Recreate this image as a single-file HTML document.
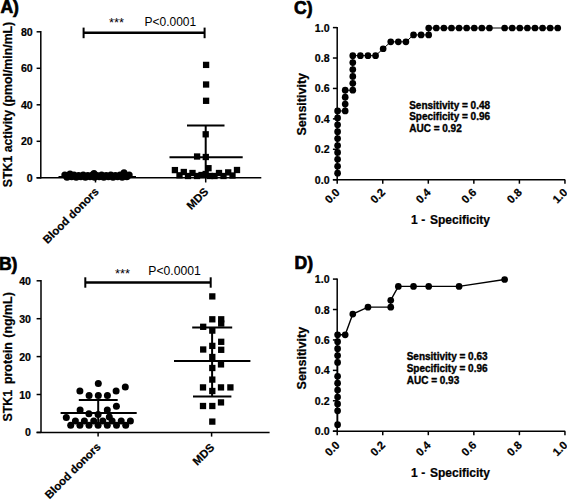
<!DOCTYPE html>
<html><head><meta charset="utf-8"><style>
html,body{margin:0;padding:0;background:#fff;width:567px;height:500px;overflow:hidden;}
svg{display:block;}
text{font-family:"Liberation Sans", sans-serif;fill:#000;}
</style></head><body>
<svg width="567" height="500" viewBox="0 0 567 500">
<rect width="567" height="500" fill="#fff"/>
<text x="0.40" y="13.00" font-size="17.6" font-weight="bold" text-anchor="start" stroke="#000" stroke-width="0.7">A)</text>
<text x="-1.10" y="270.00" font-size="17.6" font-weight="bold" text-anchor="start" stroke="#000" stroke-width="0.7">B)</text>
<text x="294.10" y="13.70" font-size="17.6" font-weight="bold" text-anchor="start" stroke="#000" stroke-width="0.7">C)</text>
<text x="294.50" y="269.30" font-size="17.6" font-weight="bold" text-anchor="start" stroke="#000" stroke-width="0.7">D)</text>
<line x1="40.80" y1="31.10" x2="40.80" y2="178.50" stroke="#000" stroke-width="1.5"/>
<line x1="36.60" y1="177.80" x2="261.30" y2="177.80" stroke="#000" stroke-width="1.5"/>
<line x1="36.60" y1="177.80" x2="40.80" y2="177.80" stroke="#000" stroke-width="1.5"/>
<text x="32.70" y="181.80" font-size="10.6" font-weight="bold" text-anchor="end" stroke="#000" stroke-width="0.22">0</text>
<line x1="36.60" y1="141.30" x2="40.80" y2="141.30" stroke="#000" stroke-width="1.5"/>
<text x="32.70" y="145.30" font-size="10.6" font-weight="bold" text-anchor="end" stroke="#000" stroke-width="0.22">20</text>
<line x1="36.60" y1="104.80" x2="40.80" y2="104.80" stroke="#000" stroke-width="1.5"/>
<text x="32.70" y="108.80" font-size="10.6" font-weight="bold" text-anchor="end" stroke="#000" stroke-width="0.22">40</text>
<line x1="36.60" y1="68.30" x2="40.80" y2="68.30" stroke="#000" stroke-width="1.5"/>
<text x="32.70" y="72.30" font-size="10.6" font-weight="bold" text-anchor="end" stroke="#000" stroke-width="0.22">60</text>
<line x1="36.60" y1="31.80" x2="40.80" y2="31.80" stroke="#000" stroke-width="1.5"/>
<text x="32.70" y="35.80" font-size="10.6" font-weight="bold" text-anchor="end" stroke="#000" stroke-width="0.22">80</text>
<line x1="95.50" y1="177.80" x2="95.50" y2="182.50" stroke="#000" stroke-width="1.5"/>
<line x1="205.70" y1="177.80" x2="205.70" y2="182.50" stroke="#000" stroke-width="1.5"/>
<text x="11.80" y="104.50" font-size="12.3" font-weight="bold" text-anchor="middle" transform="rotate(-90 11.80 104.50)" stroke="#000" stroke-width="0.22">STK1 activity (pmol/min/mL)</text>
<text x="99.50" y="192.40" font-size="11.3" font-weight="bold" text-anchor="end" transform="rotate(-45 99.50 192.40)" stroke="#000" stroke-width="0.22">Blood donors</text>
<text x="209.00" y="192.40" font-size="11.3" font-weight="bold" text-anchor="end" transform="rotate(-45 209.00 192.40)" stroke="#000" stroke-width="0.22">MDS</text>
<line x1="83.60" y1="32.70" x2="204.60" y2="32.70" stroke="#000" stroke-width="2.4"/>
<line x1="83.60" y1="27.60" x2="83.60" y2="38.20" stroke="#000" stroke-width="2.0"/>
<line x1="204.60" y1="27.60" x2="204.60" y2="38.20" stroke="#000" stroke-width="2.0"/>
<text x="109.00" y="27.40" font-size="12.8" font-weight="normal" text-anchor="start">***</text>
<text x="144.50" y="25.90" font-size="12" font-weight="normal" text-anchor="start">P&lt;0.0001</text>
<circle cx="64.80" cy="175.00" r="3.5"/>
<circle cx="69.40" cy="175.50" r="3.5"/>
<circle cx="74.00" cy="175.00" r="3.5"/>
<circle cx="78.60" cy="175.50" r="3.5"/>
<circle cx="83.20" cy="175.00" r="3.5"/>
<circle cx="87.80" cy="175.50" r="3.5"/>
<circle cx="92.40" cy="175.00" r="3.5"/>
<circle cx="97.00" cy="175.50" r="3.5"/>
<circle cx="101.60" cy="175.00" r="3.5"/>
<circle cx="106.20" cy="175.50" r="3.5"/>
<circle cx="110.80" cy="175.00" r="3.5"/>
<circle cx="115.40" cy="175.50" r="3.5"/>
<circle cx="120.00" cy="175.00" r="3.5"/>
<circle cx="124.60" cy="175.50" r="3.5"/>
<circle cx="129.20" cy="175.00" r="3.5"/>
<circle cx="67.00" cy="177.30" r="3.5"/>
<circle cx="71.60" cy="176.80" r="3.5"/>
<circle cx="76.20" cy="177.30" r="3.5"/>
<circle cx="80.80" cy="176.80" r="3.5"/>
<circle cx="85.40" cy="177.30" r="3.5"/>
<circle cx="90.00" cy="176.80" r="3.5"/>
<circle cx="94.60" cy="177.30" r="3.5"/>
<circle cx="99.20" cy="176.80" r="3.5"/>
<circle cx="103.80" cy="177.30" r="3.5"/>
<circle cx="108.40" cy="176.80" r="3.5"/>
<circle cx="113.00" cy="177.30" r="3.5"/>
<circle cx="117.60" cy="176.80" r="3.5"/>
<circle cx="122.20" cy="177.30" r="3.5"/>
<circle cx="126.80" cy="176.80" r="3.5"/>
<circle cx="124.00" cy="172.80" r="3.5"/>
<circle cx="94.00" cy="173.60" r="3.5"/>
<circle cx="70.00" cy="174.00" r="3.5"/>
<line x1="58.50" y1="176.60" x2="136.00" y2="176.60" stroke="#000" stroke-width="1.3"/>
<rect x="202.95" y="61.75" width="6.3" height="6.3"/>
<rect x="202.95" y="81.35" width="6.3" height="6.3"/>
<rect x="202.95" y="97.65" width="6.3" height="6.3"/>
<rect x="202.55" y="131.15" width="6.3" height="6.3"/>
<rect x="193.95" y="153.35" width="6.3" height="6.3"/>
<rect x="202.65" y="153.85" width="6.3" height="6.3"/>
<rect x="205.35" y="165.05" width="6.3" height="6.3"/>
<rect x="171.75" y="166.95" width="6.3" height="6.3"/>
<rect x="180.65" y="168.85" width="6.3" height="6.3"/>
<rect x="189.35" y="169.85" width="6.3" height="6.3"/>
<rect x="215.85" y="169.85" width="6.3" height="6.3"/>
<rect x="225.05" y="169.25" width="6.3" height="6.3"/>
<rect x="233.85" y="166.85" width="6.3" height="6.3"/>
<rect x="176.35" y="172.15" width="6.3" height="6.3"/>
<rect x="184.85" y="172.85" width="6.3" height="6.3"/>
<rect x="193.85" y="172.85" width="6.3" height="6.3"/>
<rect x="198.35" y="171.85" width="6.3" height="6.3"/>
<rect x="202.55" y="170.85" width="6.3" height="6.3"/>
<rect x="206.85" y="172.85" width="6.3" height="6.3"/>
<rect x="211.35" y="172.85" width="6.3" height="6.3"/>
<rect x="220.35" y="172.85" width="6.3" height="6.3"/>
<rect x="229.35" y="172.35" width="6.3" height="6.3"/>
<line x1="205.70" y1="125.50" x2="205.70" y2="177.80" stroke="#000" stroke-width="2.0"/>
<line x1="187.00" y1="125.50" x2="224.50" y2="125.50" stroke="#000" stroke-width="2.0"/>
<line x1="169.50" y1="157.30" x2="242.70" y2="157.30" stroke="#000" stroke-width="2.0"/>
<line x1="41.00" y1="280.10" x2="41.00" y2="433.10" stroke="#000" stroke-width="1.5"/>
<line x1="36.60" y1="432.40" x2="269.60" y2="432.40" stroke="#000" stroke-width="1.5"/>
<line x1="36.60" y1="432.40" x2="41.00" y2="432.40" stroke="#000" stroke-width="1.5"/>
<text x="31.00" y="436.40" font-size="10.6" font-weight="bold" text-anchor="end" stroke="#000" stroke-width="0.22">0</text>
<line x1="36.60" y1="394.50" x2="41.00" y2="394.50" stroke="#000" stroke-width="1.5"/>
<text x="31.00" y="398.50" font-size="10.6" font-weight="bold" text-anchor="end" stroke="#000" stroke-width="0.22">10</text>
<line x1="36.60" y1="356.60" x2="41.00" y2="356.60" stroke="#000" stroke-width="1.5"/>
<text x="31.00" y="360.60" font-size="10.6" font-weight="bold" text-anchor="end" stroke="#000" stroke-width="0.22">20</text>
<line x1="36.60" y1="318.70" x2="41.00" y2="318.70" stroke="#000" stroke-width="1.5"/>
<text x="31.00" y="322.70" font-size="10.6" font-weight="bold" text-anchor="end" stroke="#000" stroke-width="0.22">30</text>
<line x1="36.60" y1="280.80" x2="41.00" y2="280.80" stroke="#000" stroke-width="1.5"/>
<text x="31.00" y="284.80" font-size="10.6" font-weight="bold" text-anchor="end" stroke="#000" stroke-width="0.22">40</text>
<line x1="98.10" y1="432.40" x2="98.10" y2="436.60" stroke="#000" stroke-width="1.5"/>
<line x1="211.60" y1="432.40" x2="211.60" y2="436.60" stroke="#000" stroke-width="1.5"/>
<text x="11.80" y="421.60" font-size="12.4" font-weight="bold" text-anchor="start" transform="rotate(-90 11.80 421.60)" stroke="#000" stroke-width="0.22">STK1<tspan dx="2.4"> protein</tspan><tspan dx="1.0"> (ng/mL)</tspan></text>
<text x="101.40" y="447.50" font-size="11.3" font-weight="bold" text-anchor="end" transform="rotate(-45 101.40 447.50)" stroke="#000" stroke-width="0.22">Blood donors</text>
<text x="215.00" y="448.20" font-size="11.3" font-weight="bold" text-anchor="end" transform="rotate(-45 215.00 448.20)" stroke="#000" stroke-width="0.22">MDS</text>
<line x1="85.30" y1="282.50" x2="210.70" y2="282.50" stroke="#000" stroke-width="2.4"/>
<line x1="85.30" y1="277.30" x2="85.30" y2="287.70" stroke="#000" stroke-width="2.0"/>
<line x1="210.70" y1="277.30" x2="210.70" y2="287.70" stroke="#000" stroke-width="2.0"/>
<text x="115.10" y="278.40" font-size="12.8" font-weight="normal" text-anchor="start">***</text>
<text x="148.30" y="275.00" font-size="12.2" font-weight="normal" text-anchor="start">P&lt;0.0001</text>
<circle cx="98.30" cy="383.50" r="3.5"/>
<circle cx="79.90" cy="391.10" r="3.5"/>
<circle cx="116.10" cy="391.10" r="3.5"/>
<circle cx="125.30" cy="387.10" r="3.5"/>
<circle cx="89.10" cy="395.40" r="3.5"/>
<circle cx="98.30" cy="395.40" r="3.5"/>
<circle cx="107.40" cy="395.40" r="3.5"/>
<circle cx="116.40" cy="406.30" r="3.5"/>
<circle cx="80.10" cy="409.90" r="3.5"/>
<circle cx="107.30" cy="409.90" r="3.5"/>
<circle cx="88.90" cy="413.80" r="3.5"/>
<circle cx="98.10" cy="414.60" r="3.5"/>
<circle cx="66.30" cy="417.60" r="3.5"/>
<circle cx="109.30" cy="417.00" r="3.5"/>
<circle cx="75.40" cy="421.00" r="3.5"/>
<circle cx="84.40" cy="421.00" r="3.5"/>
<circle cx="93.70" cy="421.00" r="3.5"/>
<circle cx="102.80" cy="421.00" r="3.5"/>
<circle cx="112.10" cy="421.00" r="3.5"/>
<circle cx="121.20" cy="421.00" r="3.5"/>
<circle cx="130.40" cy="421.00" r="3.5"/>
<circle cx="70.70" cy="425.30" r="3.5"/>
<circle cx="79.90" cy="425.30" r="3.5"/>
<circle cx="89.00" cy="425.30" r="3.5"/>
<circle cx="98.10" cy="425.30" r="3.5"/>
<circle cx="107.30" cy="425.30" r="3.5"/>
<circle cx="116.50" cy="425.30" r="3.5"/>
<circle cx="125.70" cy="425.30" r="3.5"/>
<line x1="98.20" y1="399.90" x2="98.20" y2="426.00" stroke="#000" stroke-width="2.0"/>
<line x1="78.80" y1="399.90" x2="117.70" y2="399.90" stroke="#000" stroke-width="2.0"/>
<line x1="60.60" y1="413.00" x2="136.70" y2="413.00" stroke="#000" stroke-width="2.0"/>
<rect x="209.15" y="293.25" width="6.3" height="6.3"/>
<rect x="209.15" y="316.15" width="6.3" height="6.3"/>
<rect x="218.05" y="316.15" width="6.3" height="6.3"/>
<rect x="218.05" y="320.35" width="6.3" height="6.3"/>
<rect x="200.05" y="323.65" width="6.3" height="6.3"/>
<rect x="209.15" y="327.45" width="6.3" height="6.3"/>
<rect x="218.05" y="338.65" width="6.3" height="6.3"/>
<rect x="209.15" y="342.75" width="6.3" height="6.3"/>
<rect x="200.05" y="346.35" width="6.3" height="6.3"/>
<rect x="218.05" y="346.65" width="6.3" height="6.3"/>
<rect x="209.15" y="353.85" width="6.3" height="6.3"/>
<rect x="217.85" y="361.25" width="6.3" height="6.3"/>
<rect x="209.15" y="364.85" width="6.3" height="6.3"/>
<rect x="209.15" y="376.45" width="6.3" height="6.3"/>
<rect x="199.85" y="384.25" width="6.3" height="6.3"/>
<rect x="217.85" y="384.25" width="6.3" height="6.3"/>
<rect x="227.25" y="384.25" width="6.3" height="6.3"/>
<rect x="209.15" y="387.85" width="6.3" height="6.3"/>
<rect x="217.85" y="399.25" width="6.3" height="6.3"/>
<rect x="199.85" y="402.85" width="6.3" height="6.3"/>
<rect x="209.15" y="402.85" width="6.3" height="6.3"/>
<rect x="209.15" y="418.45" width="6.3" height="6.3"/>
<line x1="212.10" y1="327.40" x2="212.10" y2="396.60" stroke="#000" stroke-width="2.0"/>
<line x1="192.20" y1="327.40" x2="232.20" y2="327.40" stroke="#000" stroke-width="2.0"/>
<line x1="174.00" y1="361.00" x2="250.40" y2="361.00" stroke="#000" stroke-width="2.0"/>
<line x1="193.00" y1="396.60" x2="231.40" y2="396.60" stroke="#000" stroke-width="2.0"/>
<line x1="337.20" y1="26.90" x2="337.20" y2="180.40" stroke="#000" stroke-width="1.5"/>
<line x1="332.90" y1="179.70" x2="565.20" y2="179.70" stroke="#000" stroke-width="1.5"/>
<line x1="332.90" y1="179.70" x2="337.20" y2="179.70" stroke="#000" stroke-width="1.5"/>
<text x="329.60" y="183.70" font-size="10.6" font-weight="bold" text-anchor="end" stroke="#000" stroke-width="0.22">0.0</text>
<line x1="337.20" y1="179.70" x2="337.20" y2="183.70" stroke="#000" stroke-width="1.5"/>
<text x="340.40" y="193.10" font-size="11.2" font-weight="bold" text-anchor="end" transform="rotate(-45 340.40 193.10)" stroke="#000" stroke-width="0.22">0.0</text>
<line x1="332.90" y1="149.28" x2="337.20" y2="149.28" stroke="#000" stroke-width="1.5"/>
<text x="329.60" y="153.28" font-size="10.6" font-weight="bold" text-anchor="end" stroke="#000" stroke-width="0.22">0.2</text>
<line x1="382.75" y1="179.70" x2="382.75" y2="183.70" stroke="#000" stroke-width="1.5"/>
<text x="385.95" y="193.10" font-size="11.2" font-weight="bold" text-anchor="end" transform="rotate(-45 385.95 193.10)" stroke="#000" stroke-width="0.22">0.2</text>
<line x1="332.90" y1="118.86" x2="337.20" y2="118.86" stroke="#000" stroke-width="1.5"/>
<text x="329.60" y="122.86" font-size="10.6" font-weight="bold" text-anchor="end" stroke="#000" stroke-width="0.22">0.4</text>
<line x1="428.30" y1="179.70" x2="428.30" y2="183.70" stroke="#000" stroke-width="1.5"/>
<text x="431.50" y="193.10" font-size="11.2" font-weight="bold" text-anchor="end" transform="rotate(-45 431.50 193.10)" stroke="#000" stroke-width="0.22">0.4</text>
<line x1="332.90" y1="88.44" x2="337.20" y2="88.44" stroke="#000" stroke-width="1.5"/>
<text x="329.60" y="92.44" font-size="10.6" font-weight="bold" text-anchor="end" stroke="#000" stroke-width="0.22">0.6</text>
<line x1="473.85" y1="179.70" x2="473.85" y2="183.70" stroke="#000" stroke-width="1.5"/>
<text x="477.05" y="193.10" font-size="11.2" font-weight="bold" text-anchor="end" transform="rotate(-45 477.05 193.10)" stroke="#000" stroke-width="0.22">0.6</text>
<line x1="332.90" y1="58.02" x2="337.20" y2="58.02" stroke="#000" stroke-width="1.5"/>
<text x="329.60" y="62.02" font-size="10.6" font-weight="bold" text-anchor="end" stroke="#000" stroke-width="0.22">0.8</text>
<line x1="519.40" y1="179.70" x2="519.40" y2="183.70" stroke="#000" stroke-width="1.5"/>
<text x="522.60" y="193.10" font-size="11.2" font-weight="bold" text-anchor="end" transform="rotate(-45 522.60 193.10)" stroke="#000" stroke-width="0.22">0.8</text>
<line x1="332.90" y1="27.60" x2="337.20" y2="27.60" stroke="#000" stroke-width="1.5"/>
<text x="329.60" y="31.60" font-size="10.6" font-weight="bold" text-anchor="end" stroke="#000" stroke-width="0.22">1.0</text>
<line x1="564.95" y1="179.70" x2="564.95" y2="183.70" stroke="#000" stroke-width="1.5"/>
<text x="568.15" y="193.10" font-size="11.2" font-weight="bold" text-anchor="end" transform="rotate(-45 568.15 193.10)" stroke="#000" stroke-width="0.22">1.0</text>
<text x="305.60" y="104.25" font-size="12.5" font-weight="bold" text-anchor="middle" transform="rotate(-90 305.60 104.25)" stroke="#000" stroke-width="0.22">Sensitivity</text>
<text x="411.00" y="224.20" font-size="12" font-weight="bold" text-anchor="start" stroke="#000" stroke-width="0.22">1</text>
<text x="421.30" y="224.20" font-size="12" font-weight="bold" text-anchor="start" stroke="#000" stroke-width="0.22">-</text>
<text x="430.00" y="224.20" font-size="12" font-weight="bold" text-anchor="start" stroke="#000" stroke-width="0.22">Specificity</text>
<path d="M337.60,173.19 L337.60,166.27 L337.60,159.36 L337.60,152.45 L337.60,145.53 L337.60,138.62 L337.60,131.70 L337.60,124.79 L337.60,117.88 L337.60,110.96 L345.19,110.96 L345.19,104.05 L345.19,97.14 L345.19,90.22 L352.78,90.22 L352.78,83.31 L352.78,76.40 L352.78,69.48 L352.78,62.57 L352.78,55.65 L360.37,55.65 L367.97,55.65 L375.56,55.65 L383.15,48.74 L390.74,41.83 L398.33,41.83 L405.92,41.83 L413.52,34.91 L421.11,34.91 L428.70,34.91 L428.70,28.00 L436.29,28.00 L443.88,28.00 L451.47,28.00 L459.07,28.00 L466.66,28.00 L474.25,28.00 L481.84,28.00 L489.43,28.00 L504.62,28.00 L512.21,28.00 L519.80,28.00 L527.39,28.00 L534.98,28.00 L542.57,28.00 L550.17,28.00 L557.76,28.00" fill="none" stroke="#000" stroke-width="1.0"/>
<circle cx="337.60" cy="173.19" r="3.35"/>
<circle cx="337.60" cy="166.27" r="3.35"/>
<circle cx="337.60" cy="159.36" r="3.35"/>
<circle cx="337.60" cy="152.45" r="3.35"/>
<circle cx="337.60" cy="145.53" r="3.35"/>
<circle cx="337.60" cy="138.62" r="3.35"/>
<circle cx="337.60" cy="131.70" r="3.35"/>
<circle cx="337.60" cy="124.79" r="3.35"/>
<circle cx="337.60" cy="117.88" r="3.35"/>
<circle cx="337.60" cy="110.96" r="3.35"/>
<circle cx="345.19" cy="110.96" r="3.35"/>
<circle cx="345.19" cy="104.05" r="3.35"/>
<circle cx="345.19" cy="97.14" r="3.35"/>
<circle cx="345.19" cy="90.22" r="3.35"/>
<circle cx="352.78" cy="90.22" r="3.35"/>
<circle cx="352.78" cy="83.31" r="3.35"/>
<circle cx="352.78" cy="76.40" r="3.35"/>
<circle cx="352.78" cy="69.48" r="3.35"/>
<circle cx="352.78" cy="62.57" r="3.35"/>
<circle cx="352.78" cy="55.65" r="3.35"/>
<circle cx="360.37" cy="55.65" r="3.35"/>
<circle cx="367.97" cy="55.65" r="3.35"/>
<circle cx="375.56" cy="55.65" r="3.35"/>
<circle cx="383.15" cy="48.74" r="3.35"/>
<circle cx="390.74" cy="41.83" r="3.35"/>
<circle cx="398.33" cy="41.83" r="3.35"/>
<circle cx="405.92" cy="41.83" r="3.35"/>
<circle cx="413.52" cy="34.91" r="3.35"/>
<circle cx="421.11" cy="34.91" r="3.35"/>
<circle cx="428.70" cy="34.91" r="3.35"/>
<circle cx="428.70" cy="28.00" r="3.35"/>
<circle cx="436.29" cy="28.00" r="3.35"/>
<circle cx="443.88" cy="28.00" r="3.35"/>
<circle cx="451.47" cy="28.00" r="3.35"/>
<circle cx="459.07" cy="28.00" r="3.35"/>
<circle cx="466.66" cy="28.00" r="3.35"/>
<circle cx="474.25" cy="28.00" r="3.35"/>
<circle cx="481.84" cy="28.00" r="3.35"/>
<circle cx="489.43" cy="28.00" r="3.35"/>
<circle cx="504.62" cy="28.00" r="3.35"/>
<circle cx="512.21" cy="28.00" r="3.35"/>
<circle cx="519.80" cy="28.00" r="3.35"/>
<circle cx="527.39" cy="28.00" r="3.35"/>
<circle cx="534.98" cy="28.00" r="3.35"/>
<circle cx="542.57" cy="28.00" r="3.35"/>
<circle cx="550.17" cy="28.00" r="3.35"/>
<circle cx="557.76" cy="28.00" r="3.35"/>
<text x="409.20" y="108.50" font-size="10" font-weight="bold" text-anchor="start" stroke="#000" stroke-width="0.35">Sensitivity = 0.48</text>
<text x="409.20" y="120.30" font-size="10" font-weight="bold" text-anchor="start" stroke="#000" stroke-width="0.35">Specificity = 0.96</text>
<text x="409.20" y="132.10" font-size="10" font-weight="bold" text-anchor="start" stroke="#000" stroke-width="0.35">AUC = 0.92</text>
<line x1="337.20" y1="278.40" x2="337.20" y2="431.90" stroke="#000" stroke-width="1.5"/>
<line x1="332.90" y1="431.20" x2="565.20" y2="431.20" stroke="#000" stroke-width="1.5"/>
<line x1="332.90" y1="431.20" x2="337.20" y2="431.20" stroke="#000" stroke-width="1.5"/>
<text x="329.60" y="435.20" font-size="10.6" font-weight="bold" text-anchor="end" stroke="#000" stroke-width="0.22">0.0</text>
<line x1="337.20" y1="431.20" x2="337.20" y2="435.20" stroke="#000" stroke-width="1.5"/>
<text x="340.40" y="445.80" font-size="11.2" font-weight="bold" text-anchor="end" transform="rotate(-45 340.40 445.80)" stroke="#000" stroke-width="0.22">0.0</text>
<line x1="332.90" y1="400.78" x2="337.20" y2="400.78" stroke="#000" stroke-width="1.5"/>
<text x="329.60" y="404.78" font-size="10.6" font-weight="bold" text-anchor="end" stroke="#000" stroke-width="0.22">0.2</text>
<line x1="382.75" y1="431.20" x2="382.75" y2="435.20" stroke="#000" stroke-width="1.5"/>
<text x="385.95" y="445.80" font-size="11.2" font-weight="bold" text-anchor="end" transform="rotate(-45 385.95 445.80)" stroke="#000" stroke-width="0.22">0.2</text>
<line x1="332.90" y1="370.36" x2="337.20" y2="370.36" stroke="#000" stroke-width="1.5"/>
<text x="329.60" y="374.36" font-size="10.6" font-weight="bold" text-anchor="end" stroke="#000" stroke-width="0.22">0.4</text>
<line x1="428.30" y1="431.20" x2="428.30" y2="435.20" stroke="#000" stroke-width="1.5"/>
<text x="431.50" y="445.80" font-size="11.2" font-weight="bold" text-anchor="end" transform="rotate(-45 431.50 445.80)" stroke="#000" stroke-width="0.22">0.4</text>
<line x1="332.90" y1="339.94" x2="337.20" y2="339.94" stroke="#000" stroke-width="1.5"/>
<text x="329.60" y="343.94" font-size="10.6" font-weight="bold" text-anchor="end" stroke="#000" stroke-width="0.22">0.6</text>
<line x1="473.85" y1="431.20" x2="473.85" y2="435.20" stroke="#000" stroke-width="1.5"/>
<text x="477.05" y="445.80" font-size="11.2" font-weight="bold" text-anchor="end" transform="rotate(-45 477.05 445.80)" stroke="#000" stroke-width="0.22">0.6</text>
<line x1="332.90" y1="309.52" x2="337.20" y2="309.52" stroke="#000" stroke-width="1.5"/>
<text x="329.60" y="313.52" font-size="10.6" font-weight="bold" text-anchor="end" stroke="#000" stroke-width="0.22">0.8</text>
<line x1="519.40" y1="431.20" x2="519.40" y2="435.20" stroke="#000" stroke-width="1.5"/>
<text x="522.60" y="445.80" font-size="11.2" font-weight="bold" text-anchor="end" transform="rotate(-45 522.60 445.80)" stroke="#000" stroke-width="0.22">0.8</text>
<line x1="332.90" y1="279.10" x2="337.20" y2="279.10" stroke="#000" stroke-width="1.5"/>
<text x="329.60" y="283.10" font-size="10.6" font-weight="bold" text-anchor="end" stroke="#000" stroke-width="0.22">1.0</text>
<line x1="564.95" y1="431.20" x2="564.95" y2="435.20" stroke="#000" stroke-width="1.5"/>
<text x="568.15" y="445.80" font-size="11.2" font-weight="bold" text-anchor="end" transform="rotate(-45 568.15 445.80)" stroke="#000" stroke-width="0.22">1.0</text>
<text x="305.60" y="358.15" font-size="12.5" font-weight="bold" text-anchor="middle" transform="rotate(-90 305.60 358.15)" stroke="#000" stroke-width="0.22">Sensitivity</text>
<text x="411.00" y="477.20" font-size="12" font-weight="bold" text-anchor="start" stroke="#000" stroke-width="0.22">1</text>
<text x="421.30" y="477.20" font-size="12" font-weight="bold" text-anchor="start" stroke="#000" stroke-width="0.22">-</text>
<text x="430.00" y="477.20" font-size="12" font-weight="bold" text-anchor="start" stroke="#000" stroke-width="0.22">Specificity</text>
<path d="M337.60,424.69 L337.60,410.86 L337.60,403.95 L337.60,397.03 L337.60,390.12 L337.60,383.20 L337.60,376.29 L337.60,362.46 L337.60,355.55 L337.60,348.64 L337.60,341.72 L337.60,334.81 L345.19,334.81 L352.78,314.07 L367.97,307.15 L390.74,307.15 L390.74,300.24 L398.33,286.41 L413.52,286.41 L428.70,286.41 L459.07,286.41 L504.62,279.50" fill="none" stroke="#000" stroke-width="1.4"/>
<circle cx="337.60" cy="424.69" r="3.35"/>
<circle cx="337.60" cy="410.86" r="3.35"/>
<circle cx="337.60" cy="403.95" r="3.35"/>
<circle cx="337.60" cy="397.03" r="3.35"/>
<circle cx="337.60" cy="390.12" r="3.35"/>
<circle cx="337.60" cy="383.20" r="3.35"/>
<circle cx="337.60" cy="376.29" r="3.35"/>
<circle cx="337.60" cy="362.46" r="3.35"/>
<circle cx="337.60" cy="355.55" r="3.35"/>
<circle cx="337.60" cy="348.64" r="3.35"/>
<circle cx="337.60" cy="341.72" r="3.35"/>
<circle cx="337.60" cy="334.81" r="3.35"/>
<circle cx="345.19" cy="334.81" r="3.35"/>
<circle cx="352.78" cy="314.07" r="3.35"/>
<circle cx="367.97" cy="307.15" r="3.35"/>
<circle cx="390.74" cy="307.15" r="3.35"/>
<circle cx="390.74" cy="300.24" r="3.35"/>
<circle cx="398.33" cy="286.41" r="3.35"/>
<circle cx="413.52" cy="286.41" r="3.35"/>
<circle cx="428.70" cy="286.41" r="3.35"/>
<circle cx="459.07" cy="286.41" r="3.35"/>
<circle cx="504.62" cy="279.50" r="3.35"/>
<text x="406.70" y="360.00" font-size="10" font-weight="bold" text-anchor="start" stroke="#000" stroke-width="0.35">Sensitivity = 0.63</text>
<text x="406.70" y="371.80" font-size="10" font-weight="bold" text-anchor="start" stroke="#000" stroke-width="0.35">Specificity = 0.96</text>
<text x="406.70" y="383.60" font-size="10" font-weight="bold" text-anchor="start" stroke="#000" stroke-width="0.35">AUC = 0.93</text>
</svg>
</body></html>
